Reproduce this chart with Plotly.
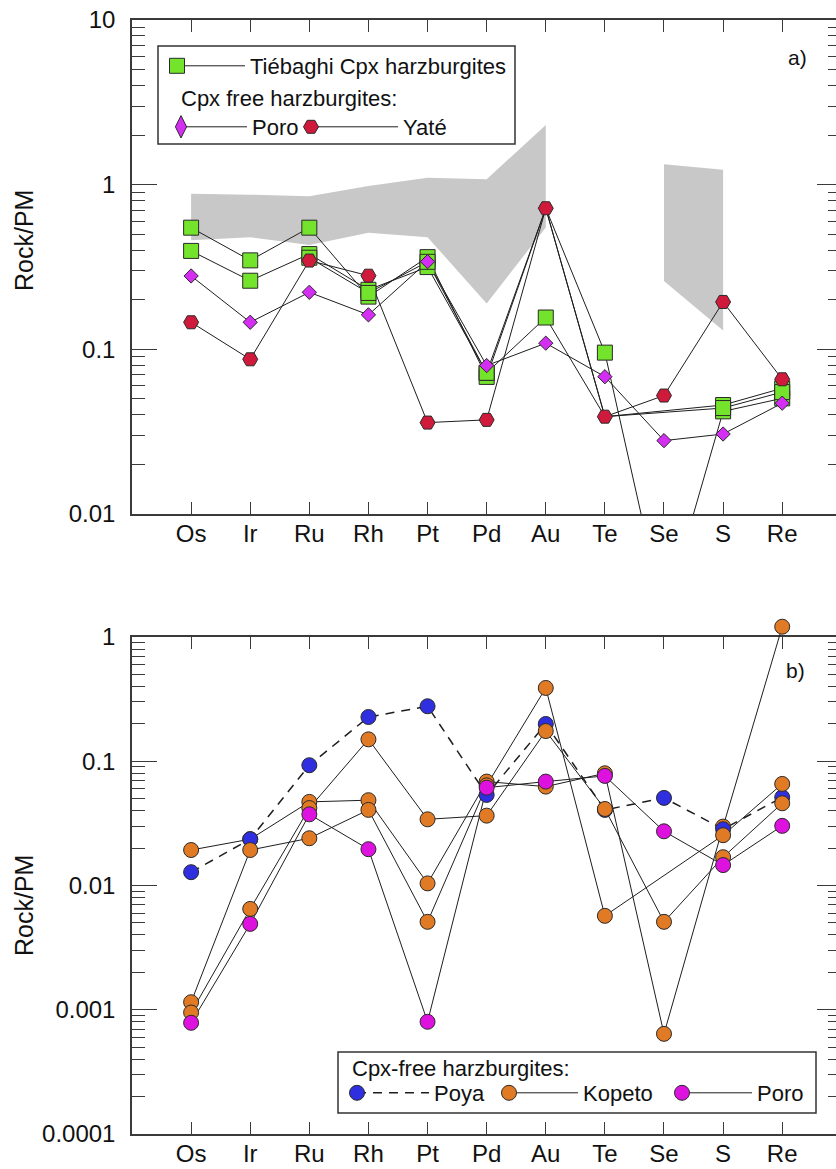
import math
import plotly.graph_objects as go

W_PX, H_PX = 836, 1169
FONT = "Liberation Sans, Arial, Helvetica, sans-serif"
AXC = "#3a3a3a"
LINEC = "#1e1e1e"

# ---------------- data ----------------
elements = ["Os", "Ir", "Ru", "Rh", "Pt", "Pd", "Au", "Te", "Se", "S", "Re"]
ytick_vals_a = [0.01, 0.1, 1, 10]
ytick_text_a = ["0.01", "0.1", "1", "10"]
ytick_vals_b = [0.0001, 0.001, 0.01, 0.1, 1]
ytick_text_b = ["0.0001", "0.001", "0.01", "0.1", "1"]

# panel a: grey field (Os..Au) and (Se..S)
band1_elements = ["Os", "Ir", "Ru", "Rh", "Pt", "Pd", "Au"]
band1_upper = [0.88, 0.87, 0.85, 0.98, 1.10, 1.08, 2.30]
band1_lower = [0.46, 0.48, 0.43, 0.51, 0.48, 0.19, 0.55]
band2_elements = ["Se", "S"]
band2_upper = [1.33, 1.23]
band2_lower = [0.26, 0.13]

# panel a samples
tiebaghi_1 = [0.548, 0.347, 0.548, 0.209, 0.363, 0.068, 0.719, 0.0955, 0.0024, 0.042, 0.0504]
tiebaghi_2 = [0.396, 0.261, 0.379, 0.230, 0.316, 0.072, 0.156, 0.039, None, 0.0459, 0.058]
tiebaghi_3 = [None, None, 0.36, 0.22, 0.34, 0.072, 0.719, 0.039, None, 0.044, 0.055]
poro_a = [0.279, 0.146, 0.222, 0.162, 0.341, 0.0797, 0.109, 0.0682, 0.0279, 0.0306, 0.0471]
yate = [0.146, 0.087, 0.346, 0.280, 0.0359, 0.0373, 0.719, 0.039, 0.0524, 0.194, 0.0658]

# panel b samples
poya = [0.0128, 0.0236, 0.0929, 0.227, 0.277, 0.0536, 0.1995, 0.0406, 0.0507, 0.0284, 0.0513]
kopeto_1 = [0.00115, 0.0193, 0.024, 0.0406, 0.0051, 0.064, 0.389, 0.0057, None, 0.0254, 0.0657]
kopeto_2 = [0.00095, 0.00648, 0.042, 0.150, 0.0341, 0.0365, 0.175, 0.0413, 0.0051, 0.0169, 0.0459]
kopeto_3 = [0.0193, 0.0236, 0.0471, 0.0486, 0.0104, 0.0686, 0.0625, 0.080, 0.00064, 0.0298, 1.21]
poro_b = [0.000785, 0.00491, 0.0374, 0.0196, 0.0008, 0.0613, 0.0686, 0.0762, 0.0273, 0.0146, 0.0302]

# ---------------- styles ----------------
GREEN = "#74e32c"
PURPLE = "#d42ef2"
RED = "#d01a3c"
BLUE = "#2f2fe0"
ORANGE = "#e07a24"
MAGENTA = "#de12de"
MK_EDGE = dict(color="#2a2a2a", width=1)

xpos = list(range(len(elements)))          # category positions on a linear axis
pos_of = {e: i for i, e in enumerate(elements)}


def px(x):
    return x / W_PX


def py(y):
    return 1 - y / H_PX


def sizes_under(vals, cover, size):
    """Marker sizes: points lying exactly under a covering marker are not drawn."""
    out = []
    for v, c in zip(vals, cover):
        hidden = v is not None and c is not None and abs(math.log10(v / c)) < 0.01
        out.append(0 if hidden else size)
    return out


fig = go.Figure()


def band(names, up, lo):
    xs = [pos_of[e] for e in names]
    fig.add_trace(go.Scatter(
        x=xs + xs[::-1], y=up + lo[::-1], fill="toself", fillcolor="#c8c8c8",
        mode="lines", line=dict(width=0, color="#c8c8c8"), hoverinfo="skip",
        showlegend=False, xaxis="x", yaxis="y"))


band(band1_elements, band1_upper, band1_lower)
band(band2_elements, band2_upper, band2_lower)


def line_tr(vals, xa, ya, dash="solid", width=1):
    fig.add_trace(go.Scatter(
        x=xpos, y=vals, mode="lines", connectgaps=True,
        line=dict(color=LINEC, width=width, dash=dash), hoverinfo="skip",
        showlegend=False, xaxis=xa, yaxis=ya))


def mark_tr(vals, xa, ya, symbol, size, color):
    fig.add_trace(go.Scatter(
        x=xpos, y=vals, mode="markers",
        marker=dict(symbol=symbol, size=size, color=color, line=MK_EDGE, opacity=1),
        showlegend=False, xaxis=xa, yaxis=ya))


# panel a
for s in (tiebaghi_1, tiebaghi_2, tiebaghi_3, yate, poro_a):
    line_tr(s, "x", "y")
for s in (tiebaghi_1, tiebaghi_2, tiebaghi_3):
    mark_tr(s, "x", "y", "square", sizes_under(s, yate, 15), GREEN)
mark_tr(yate, "x", "y", "hexagon2", 15, RED)
mark_tr(poro_a, "x", "y", "diamond", 11, PURPLE)

# panel b: data drawn on a hidden twin of the panel-b axes whose plotting area
# reaches a little above the frame (so the Re point above 1 stays visible)
BX, BY = "x3", "y5"
line_tr(poya, BX, BY, dash="9px,7px", width=1.5)
line_tr(kopeto_1, BX, BY)
line_tr(kopeto_2, BX, BY)
line_tr(kopeto_3, BX, BY)
line_tr(poro_b, BX, BY)
mark_tr(kopeto_3, BX, BY, "circle", 15, ORANGE)
mark_tr(poya, BX, BY, "circle", 15, BLUE)
mark_tr(kopeto_1, BX, BY, "circle", 15, ORANGE)
mark_tr(kopeto_2, BX, BY, "circle", 15, ORANGE)
mark_tr(poro_b, BX, BY, "circle", 15, MAGENTA)

# dummy traces so that the frame / right-hand tick axes are drawn
for xa, ya in (("x", "y3"), ("x2", "y2"), ("x2", "y4")):
    fig.add_trace(go.Scatter(x=[None], y=[None], xaxis=xa, yaxis=ya, showlegend=False, hoverinfo="skip"))

# ---------------- legends ----------------
legend_layout = {}
LEG_FONT = dict(family=FONT, size=22, color="#111111")
keys = [
    # name, symbol, size, color, dash, marker_x, text_x, y
    ("Tiébaghi Cpx harzburgites", "square", 15, GREEN, "solid", 177, 250, 66),
    ("Poro", "diamond-tall", 16, PURPLE, "solid", 181, 252, 127),
    ("Yaté", "hexagon2", 15, RED, "solid", 311, 403, 127),
    ("Poya", "circle", 15, BLUE, "9px,7px", 357, 434, 1093),
    ("Kopeto", "circle", 15, ORANGE, "solid", 509, 583, 1093),
    ("Poro", "circle", 15, MAGENTA, "solid", 682, 757, 1093),
]
n = 1
line_legends = []
marker_legends = []
for (name, sym, size, col, dash, mx, tx, y) in keys:
    w = max(30, tx - mx - 5)
    line_legends.append((name, dash, w, mx - 5, y))
    marker_legends.append((sym, size, col, mx - 20, y))

for (name, dash, w, left, y) in line_legends:
    lname = "legend" if n == 1 else f"legend{n}"
    fig.add_trace(go.Scatter(x=[None], y=[None], mode="lines", name=name,
                             line=dict(color=LINEC, width=1.5 if dash != "solid" else 1, dash=dash),
                             legend=lname, showlegend=True, xaxis="x", yaxis="y", hoverinfo="skip"))
    legend_layout[lname] = dict(x=px(left), y=py(y), xanchor="left", yanchor="middle",
                                bgcolor="rgba(0,0,0,0)", borderwidth=0, itemwidth=w,
                                font=LEG_FONT, itemclick=False, itemdoubleclick=False)
    n += 1
for (sym, size, col, left, y) in marker_legends:
    lname = f"legend{n}"
    fig.add_trace(go.Scatter(x=[None], y=[None], mode="markers", name=" ",
                             marker=dict(symbol=sym, size=size, color=col, line=MK_EDGE),
                             legend=lname, showlegend=True, xaxis="x", yaxis="y", hoverinfo="skip"))
    legend_layout[lname] = dict(x=px(left), y=py(y), xanchor="left", yanchor="middle",
                                bgcolor="rgba(0,0,0,0)", borderwidth=0, itemwidth=30,
                                font=LEG_FONT, itemclick=False, itemdoubleclick=False)
    n += 1

# ---------------- axes ----------------
xdom = [px(132), 1]
XRANGE = [-1, 10.91]
xcommon = dict(domain=xdom, range=XRANGE, type="linear",
               showline=True, linecolor=AXC, linewidth=1.5, mirror="ticks",
               ticks="inside", ticklen=12, tickwidth=1.3, tickcolor=AXC,
               showgrid=False, zeroline=False, tickfont=dict(family=FONT, size=24, color="#111"),
               tickvals=xpos, ticktext=elements, automargin=False,
               ticklabelstandoff=-3)


def ycommon(rng, dom, vals, texts):
    return dict(domain=dom, type="log", range=rng, showline=True, linecolor=AXC, linewidth=1.5,
                ticks="inside", ticklen=25, tickwidth=1.3, tickcolor=AXC,
                tickvals=vals, ticktext=texts, showgrid=False, zeroline=False,
                tickfont=dict(family=FONT, size=24, color="#111"), automargin=False,
                ticklabelstandoff=10,
                minor=dict(ticks="inside", ticklen=13, tickwidth=1.3, tickcolor=AXC,
                           dtick="D1", showgrid=False))


def yright(rng, over, vals):
    return dict(type="log", range=rng, overlaying=over, side="right", anchor="free", position=1,
                showline=False, ticks="inside", ticklen=19, tickwidth=1.3, tickcolor=AXC,
                tickvals=vals, showticklabels=False, showgrid=False, zeroline=False,
                minor=dict(ticks="inside", ticklen=8, tickwidth=1.3, tickcolor=AXC,
                           dtick="D1", showgrid=False))


A_TOP, A_BOT = 20, 514
B_TOP, B_BOT = 637, 1134
B_EXT = 612                       # hidden twin reaches 25 px above the frame
RANGE_B = [-4, 0]
dec_b = (B_BOT - B_TOP) / (RANGE_B[1] - RANGE_B[0])
range_b_ext = [RANGE_B[0], RANGE_B[0] + (B_BOT - B_EXT) / dec_b]

dom_a = [py(A_BOT), py(A_TOP)]
dom_b = [py(B_BOT), py(B_TOP)]

fig.update_layout(
    width=W_PX, height=H_PX, margin=dict(l=0, r=0, t=0, b=0),
    paper_bgcolor="white", plot_bgcolor="rgba(0,0,0,0)",
    font=dict(family=FONT, color="#111"),
    xaxis=dict(xcommon, anchor="y"),
    xaxis2=dict(xcommon, anchor="y2"),
    xaxis3=dict(domain=xdom, range=XRANGE, type="linear", visible=False, anchor="y5"),
    yaxis=ycommon([-2, 1], dom_a, ytick_vals_a, ytick_text_a) | dict(anchor="x"),
    yaxis2=ycommon(RANGE_B, dom_b, ytick_vals_b, ytick_text_b) | dict(anchor="x2"),
    yaxis3=yright([-2, 1], "y", ytick_vals_a),
    yaxis4=yright(RANGE_B, "y2", ytick_vals_b),
    yaxis5=dict(domain=[py(B_BOT), py(B_EXT)], type="log", range=range_b_ext, visible=False, anchor="x3"),
    **legend_layout,
    shapes=[
        dict(type="rect", xref="paper", yref="paper", x0=px(158), x1=px(515), y0=py(144), y1=py(46),
             line=dict(color="#333", width=1.5), fillcolor="white", layer="below"),
        dict(type="rect", xref="paper", yref="paper", x0=px(338), x1=px(816), y0=py(1113), y1=py(1052),
             line=dict(color="#333", width=1.5), fillcolor="white", layer="below"),
    ],
    annotations=[
        dict(text="Cpx free harzburgites:", x=px(179), y=py(99), xref="paper", yref="paper",
             xanchor="left", yanchor="middle", showarrow=False, font=LEG_FONT),
        dict(text="Cpx-free harzburgites:", x=px(350), y=py(1068), xref="paper", yref="paper",
             xanchor="left", yanchor="middle", showarrow=False, font=LEG_FONT),
        dict(text="a)", x=px(797), y=py(57), xref="paper", yref="paper",
             xanchor="center", yanchor="middle", showarrow=False, font=dict(family=FONT, size=21, color="#111")),
        dict(text="b)", x=px(795), y=py(670), xref="paper", yref="paper",
             xanchor="center", yanchor="middle", showarrow=False, font=dict(family=FONT, size=21, color="#111")),
        dict(text="Rock/PM", x=px(24), y=py(241), xref="paper", yref="paper", textangle=-90,
             xanchor="center", yanchor="middle", showarrow=False, font=dict(family=FONT, size=25, color="#111")),
        dict(text="Rock/PM", x=px(24), y=py(906), xref="paper", yref="paper", textangle=-90,
             xanchor="center", yanchor="middle", showarrow=False, font=dict(family=FONT, size=25, color="#111")),
    ],
)

fig.write_html("out.html")
